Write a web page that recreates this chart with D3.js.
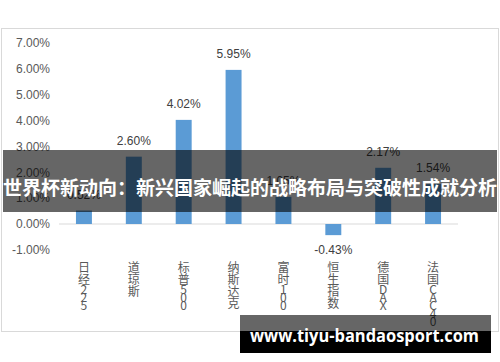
<!DOCTYPE html>
<html>
<head>
<meta charset="utf-8">
<script src="https://cdn.jsdelivr.net/npm/d3@7"></script>
<style>
  body { margin: 0; background: #fff; }
  svg { display: block; }
</style>
</head>
<body>
<svg id="chart" width="500" height="362"></svg>
<script>
// chart data
var categories = ["日经225", "道琼斯", "标普500", "纳斯达克", "富时100", "恒生指数", "德国DAX", "法国CAC40"];
var values = [0.52, 2.60, 4.02, 5.95, 1.05, -0.43, 2.17, 1.54];
var yTicks = [-1, 0, 1, 2, 3, 4, 5, 6, 7];
var title = "世界杯新动向：新兴国家崛起的战略布局与突破性成就分析";
var watermark = "www.tiyu-bandaosport.com";

var svg = d3.select("#chart");
var cjkFont = "'Noto Sans CJK SC', sans-serif";
var numFont = "'Liberation Sans', Arial, sans-serif";

// chart frame
svg.append("rect")
    .attr("x", 1.5).attr("y", 28.5)
    .attr("width", 497).attr("height", 303)
    .attr("fill", "#fff")
    .attr("stroke", "#d9d9d9");

// scales
var xScale = d3.scaleBand()
    .domain(categories)
    .range([59, 458])
    .paddingInner(0.68)
    .paddingOuter(0.34);
var yScale = d3.scaleLinear()
    .domain([-1, 7])
    .range([249.9, 42.7]);

// y axis, labels only
var yAxis = d3.axisLeft(yScale)
    .tickValues(yTicks)
    .tickSize(0)
    .tickPadding(9)
    .tickFormat(d => d.toFixed(2) + "%");
var gy = svg.append("g")
    .attr("transform", "translate(59,0)")
    .call(yAxis);
gy.select(".domain").remove();
gy.selectAll("text")
    .attr("fill", "#595959")
    .style("font-family", numFont)
    .style("font-size", "12px");

// zero line
svg.append("line")
    .attr("x1", 59).attr("x2", 458)
    .attr("y1", yScale(0)).attr("y2", yScale(0))
    .attr("stroke", "#d9d9d9")
    .attr("stroke-width", 1.2);

// bars
svg.selectAll(".bar")
    .data(values)
    .enter().append("rect")
    .attr("class", "bar")
    .attr("x", (d, i) => xScale(categories[i]))
    .attr("width", xScale.bandwidth())
    .attr("y", d => yScale(Math.max(d, 0)))
    .attr("height", d => Math.abs(yScale(d) - yScale(0)))
    .attr("fill", "#5b9bd5");

// value labels
svg.selectAll(".val")
    .data(values)
    .enter().append("text")
    .attr("class", "val")
    .attr("x", (d, i) => xScale(categories[i]) + xScale.bandwidth() / 2)
    .attr("y", d => d >= 0 ? yScale(d) - 16 : yScale(d) + 15)
    .attr("text-anchor", "middle")
    .attr("dominant-baseline", "central")
    .attr("fill", "#404040")
    .style("font-family", numFont)
    .style("font-size", "12px")
    .text(d => d.toFixed(2) + "%");

// category labels, stacked vertically one char per row
var isCjk = ch => /[\u3400-\u9fff]/.test(ch);
categories.forEach((cat, i) => {
    var cx = xScale(cat) + xScale.bandwidth() / 2;
    var chars = Array.from(cat);
    var y = 266;
    var t = svg.append("text")
        .attr("text-anchor", "middle")
        .attr("fill", "#595959")
        .style("font-family", cjkFont)
        .style("font-size", "12px");
    chars.forEach((ch, j) => {
        if (j > 0) {
            var prev = chars[j - 1];
            y += (isCjk(prev) ? 6 : 4) + (isCjk(ch) ? 6 : 4);
        }
        t.append("tspan")
            .attr("x", cx)
            .attr("y", y)
            .attr("dominant-baseline", "central")
            .text(ch);
    });
});

// title banner
svg.append("rect")
    .attr("x", 3).attr("y", 150)
    .attr("width", 494).attr("height", 62)
    .attr("fill", "rgba(0,0,0,0.6)");
svg.append("text")
    .attr("x", 250).attr("y", 186)
    .attr("text-anchor", "middle")
    .attr("dominant-baseline", "central")
    .attr("fill", "#fff")
    .style("font-family", cjkFont)
    .style("font-weight", "bold")
    .style("font-size", "19px")
    .text(title);

// watermark
svg.append("rect")
    .attr("x", 240).attr("y", 315)
    .attr("width", 251).attr("height", 16)
    .attr("fill", "rgba(0,0,0,0.6)");
svg.append("rect")
    .attr("x", 240).attr("y", 331)
    .attr("width", 251).attr("height", 22)
    .attr("fill", "#000");
svg.append("text")
    .attr("x", 250).attr("y", 342)
    .attr("textLength", 229)
    .attr("lengthAdjust", "spacingAndGlyphs")
    .attr("fill", "#fff")
    .style("font-family", "'Open Sans', sans-serif")
    .style("font-weight", "bold")
    .style("font-size", "17px")
    .text(watermark);
</script>
</body>
</html>
